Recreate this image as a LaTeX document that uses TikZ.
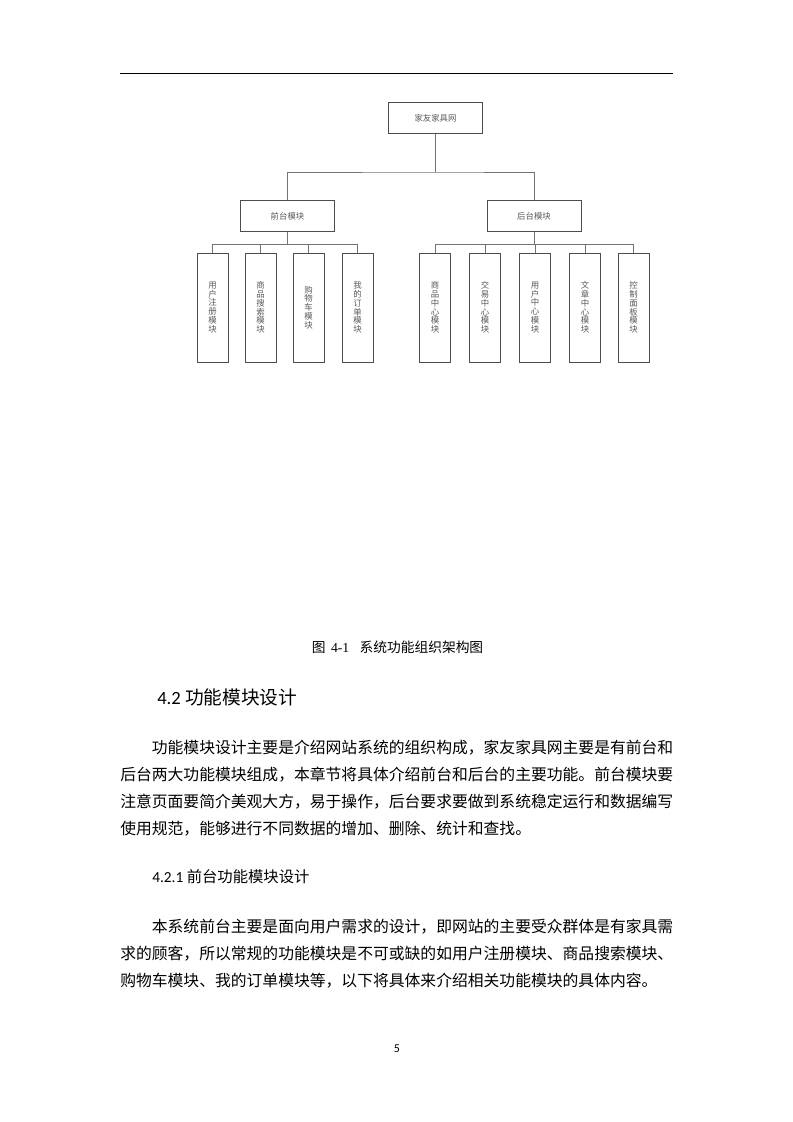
\documentclass[tikz,border=0pt]{standalone}
\usepackage{fontspec}
\setmainfont{Noto Sans CJK SC}
\newfontfamily\cjk{Noto Sans CJK SC}
\newfontfamily\serifl{Liberation Serif}
\newfontfamily\carl{Carlito}
\begin{document}
\begin{tikzpicture}[x=0.75pt,y=-0.75pt,
  box/.style={draw=black!70, line width=0.5pt, inner sep=0pt, outer sep=0pt, text=black!65, font=\cjk\fontsize{6.3}{6.6}\selectfont},
  hbox/.style={box, minimum width=70.5pt, minimum height=23.5pt},
  vbox/.style={box, minimum width=23.25pt, minimum height=81.75pt, align=center},
  conn/.style={draw=black!55, line width=0.5pt},
  body/.style={anchor=west, inner sep=0pt, font=\cjk\fontsize{11.85}{12}\selectfont},
  rule/.style={draw=black, line width=0.75pt},
]
\useasboundingbox[fill=white] (0,0) rectangle (793,1122);
% header rule
\coordinate (hl) at (120,73);
\coordinate (hr) at (673,73);
\draw[rule] (hl) -- (hr);

% tree
\node[hbox] (root) at (435.5,118) {家友家具网};
\node[hbox] (front) at (287.5,216) {前台模块};
\node[hbox] (back) at (534,216) {后台模块};

\node[vbox] (f1) at (212.5,307.5) {用\\户\\注\\册\\模\\块};
\node[vbox] (f2) at (260.5,307.5) {商\\品\\搜\\索\\模\\块};
\node[vbox] (f3) at (308.5,307.5) {购\\物\\车\\模\\块};
\node[vbox] (f4) at (357.5,307.5) {我\\的\\订\\单\\模\\块};

\node[vbox] (b1) at (435,307.5) {商\\品\\中\\心\\模\\块};
\node[vbox] (b2) at (485,307.5) {交\\易\\中\\心\\模\\块};
\node[vbox] (b3) at (535,307.5) {用\\户\\中\\心\\模\\块};
\node[vbox] (b4) at (585,307.5) {文\\章\\中\\心\\模\\块};
\node[vbox] (b5) at (633.5,307.5) {控\\制\\面\\板\\模\\块};

\coordinate (j0) at (435.5,172);
\draw[conn] (root.south) -- (j0);
\draw[conn] (front.north) |- (j0) -| (back.north);

\coordinate (fj) at (287.5,244);
\draw[conn] (front.south) -- (fj);
\draw[conn] (f1.north) -- ++(0,-9) -| (f4.north);
\draw[conn] (f2.north) -- ++(0,-9);
\draw[conn] (f3.north) -- ++(0,-9);

\coordinate (bj) at (534,244);
\draw[conn] (back.south) -- (bj);
\draw[conn] (b1.north) -- ++(0,-9) -| (b5.north);
\draw[conn] (b2.north) -- ++(0,-9);
\draw[conn] (b3.north) -- ++(0,-9);
\draw[conn] (b4.north) -- ++(0,-9);

% caption
\node[inner sep=0pt, font=\cjk\fontsize{10.3}{12}\selectfont] (cap) at (397.5,647) {图\hspace{0.4em}{\serifl 4-1}\hspace{0.75em}系统功能组织架构图};

% headings
\node[anchor=west, inner sep=0pt, font=\cjk\fontsize{14}{16}\selectfont] (h42) at (157,697) {{\carl 4.2 }功能模块设计};

\node[body] (p1a) at (151.6,748) {功能模块设计主要是介绍网站系统的组织构成，家友家具网主要是有前台和};
\node[body] (p1b) at (120,775) {后台两大功能模块组成，本章节将具体介绍前台和后台的主要功能。前台模块要};
\node[body] (p1c) at (120,802) {注意页面要简介美观大方，易于操作，后台要求要做到系统稳定运行和数据编写};
\node[body] (p1d) at (120,829) {使用规范，能够进行不同数据的增加、删除、统计和查找。};

\node[anchor=west, inner sep=0pt, font=\cjk\fontsize{11.5}{14}\selectfont] (h421) at (152,877) {{\carl 4.2.1 }前台功能模块设计};

\node[body] (p2a) at (151.6,927) {本系统前台主要是面向用户需求的设计，即网站的主要受众群体是有家具需};
\node[body] (p2b) at (120,954) {求的顾客，所以常规的功能模块是不可或缺的如用户注册模块、商品搜索模块、};
\node[body] (p2c) at (120,981) {购物车模块、我的订单模块等，以下将具体来介绍相关功能模块的具体内容。};

\node[inner sep=0pt, font=\carl\fontsize{9}{10}\selectfont] (pg) at (397,1049) {5};
\end{tikzpicture}
\end{document}
